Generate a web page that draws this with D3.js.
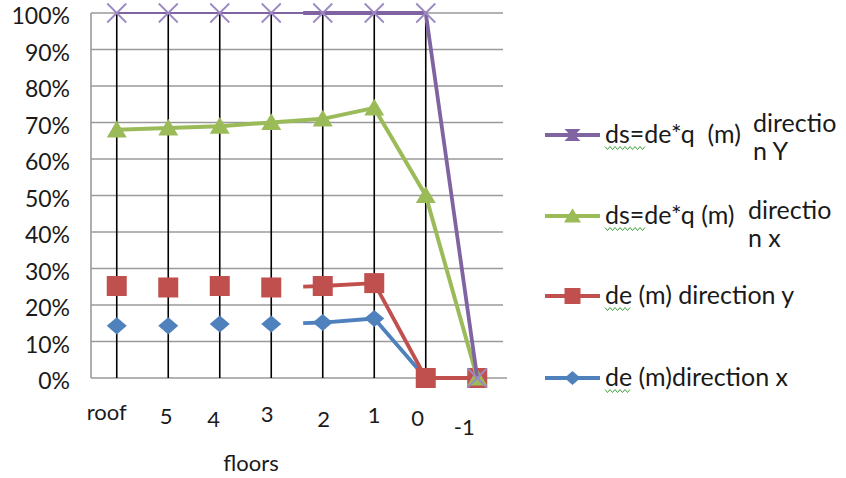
<!DOCTYPE html>
<html>
<head>
<meta charset="utf-8">
<script src="https://cdn.jsdelivr.net/npm/d3@7/dist/d3.min.js"></script>
<style>
  html, body { margin: 0; padding: 0; background: #fff; }
  svg { display: block; }
  text { font-family: Lato, "Open Sans", sans-serif; fill: #1a1a1a; white-space: pre; }
</style>
</head>
<body>
<svg id="chart" width="846" height="478"></svg>
<script>
// Floors along the x axis, top of the building first
const categories = ["roof", "5", "4", "3", "2", "1", "0", "-1"];

// Ratios per floor, in percent
const dsDirY = [100, 100, 100, 100, 100, 100, 100, 0];
const dsDirX = [68, 68.5, 69, 70, 71, 74, 50, 0];
const deDirY = [25.2, 24.8, 25.2, 24.8, 25.2, 26, 0, 0];
const deDirX = [14.3, 14.3, 14.8, 14.8, 15.2, 16.3, 0, 0];

const yTicks = [0, 10, 20, 30, 40, 50, 60, 70, 80, 90, 100];
const yTickLabels = ["0%", "10%", "20%", "30%", "40%", "50%", "60%", "70%", "80%", "90%", "100%"];

const seriesNames = {
  dsY: ["ds=de*q  (m)", "directio", "n Y"],
  dsX: ["ds=de*q (m)", "directio", "n x"],
  deY: ["de (m) direction y"],
  deX: ["de (m)direction x"]
};
const xTitle = "floors";

const COLORS = { blue: "#4F81BD", red: "#C0504D", green: "#9BBB59", purple: "#8064A2" };

const svg = d3.select("#chart");
const plot = { left: 91, right: 503, top: 13, bottom: 378 };

const x = d3.scalePoint().domain(categories).range([plot.left, plot.right]).padding(0.5);
const y = d3.scaleLinear().domain([0, 100]).range([plot.bottom, plot.top]);

// Horizontal gridlines
svg.append("g").selectAll("line").data(yTicks).join("line")
  .attr("x1", plot.left).attr("x2", d => d === 0 ? plot.right + 4 : plot.right)
  .attr("y1", d => y(d)).attr("y2", d => y(d))
  .attr("stroke", "#9a9a9a").attr("stroke-width", 1.6);

// Value axis line
svg.append("line")
  .attr("x1", plot.left).attr("x2", plot.left)
  .attr("y1", y(100)).attr("y2", y(0))
  .attr("stroke", "#9a9a9a").attr("stroke-width", 1.6);

// Y tick labels
svg.append("g").selectAll("text").data(yTicks).join("text")
  .attr("x", 70).attr("y", d => y(d) + 11)
  .attr("text-anchor", "end")
  .attr("font-size", 23)
  .text((d, i) => yTickLabels[i]);

// Drop lines from the highest value on each floor down to the axis
const maxPerFloor = categories.map((c, i) => Math.max(dsDirY[i], dsDirX[i], deDirY[i], deDirX[i]));
svg.append("g").selectAll("line").data(categories).join("line")
  .attr("x1", d => x(d)).attr("x2", d => x(d))
  .attr("y1", (d, i) => y(maxPerFloor[i])).attr("y2", y(0))
  .attr("stroke", "#000").attr("stroke-width", 1.6);

// Category labels (hand-set nudges keep the loose, pasted-in look of the axis)
const labelNudge = {
  "roof": [-10, 420], "5": [-2, 424], "4": [-6, 427], "3": [-4, 422],
  "2": [1, 427], "1": [0, 423], "0": [-8, 426], "-1": [-13, 435]
};
svg.append("g").selectAll("text").data(categories).join("text")
  .attr("x", d => x(d) + labelNudge[d][0])
  .attr("y", d => labelNudge[d][1])
  .attr("text-anchor", "middle")
  .attr("font-size", 22)
  .text(d => d);

svg.append("text")
  .attr("x", 251).attr("y", 471)
  .attr("text-anchor", "middle")
  .attr("font-size", 22)
  .text(xTitle);

// Marker shapes
function marker(g, kind, cx, cy, s, color) {
  if (kind === "diamond") {
    g.append("path").attr("d", `M${cx - s / 2},${cy}L${cx},${cy - s * 0.43}L${cx + s / 2},${cy}L${cx},${cy + s * 0.43}Z`)
      .attr("fill", color);
  } else if (kind === "square") {
    g.append("rect").attr("x", cx - s / 2).attr("y", cy - s / 2).attr("width", s).attr("height", s)
      .attr("fill", color);
  } else if (kind === "triangle") {
    g.append("path").attr("d", `M${cx - s / 2},${cy + s * 0.38}L${cx},${cy - s * 0.46}L${cx + s / 2},${cy + s * 0.38}Z`)
      .attr("fill", color);
  } else if (kind === "x") {
    const h = s / 2;
    g.append("path").attr("d", `M${cx - h},${cy - h}L${cx + h},${cy + h}M${cx + h},${cy - h}L${cx - h},${cy + h}`)
      .attr("stroke", color).attr("stroke-width", 1.8).attr("fill", "none");
  } else if (kind === "hourglass") {
    const w = s / 2, h = s * 0.38;
    g.append("path").attr("d",
      `M${cx - w},${cy - h}L${cx + w},${cy - h}L${cx + w * 0.3},${cy}L${cx + w},${cy + h}` +
      `L${cx - w},${cy + h}L${cx - w * 0.3},${cy}Z`)
      .attr("fill", color);
  }
}

const line = d3.line().x(d => x(d.c)).y(d => y(d.v));
const pts = vals => categories.map((c, i) => ({ c, v: vals[i] }));

// Partial segment between floors "3" and "2": only the part nearest "2" is drawn
const stubFrac = 0.38;
const joinIdx = categories.indexOf("2");
function stubStart(vals) {
  const a = joinIdx - 1, b = joinIdx;
  const xa = x(categories[a]), xb = x(categories[b]);
  const ya = y(vals[a]), yb = y(vals[b]);
  return [xb + (xa - xb) * stubFrac, yb + (ya - yb) * stubFrac];
}
function tailPath(vals) {
  const s = stubStart(vals);
  const rest = pts(vals).slice(joinIdx).map(d => [x(d.c), y(d.v)]);
  return d3.line()([s, ...rest]);
}

const series = [
  { vals: deDirX, color: COLORS.blue, kind: "diamond", size: 20, mode: "tail" },
  { vals: deDirY, color: COLORS.red, kind: "square", size: 20, mode: "tail" },
  { vals: dsDirX, color: COLORS.green, kind: "triangle", size: 20, mode: "full" },
  { vals: dsDirY, color: COLORS.purple, kind: "x", size: 19, mode: "thinHead" }
];

series.forEach(s => {
  const g = svg.append("g");
  if (s.mode === "full") {
    g.append("path").attr("d", line(pts(s.vals)))
      .attr("fill", "none").attr("stroke", s.color).attr("stroke-width", 4).attr("stroke-linejoin", "round");
  } else {
    if (s.mode === "thinHead") {
      g.append("path").attr("d", line(pts(s.vals).slice(0, joinIdx + 1)))
        .attr("fill", "none").attr("stroke", s.color).attr("stroke-width", 1.8);
    }
    g.append("path").attr("d", tailPath(s.vals))
      .attr("fill", "none").attr("stroke", s.color).attr("stroke-width", 3.8).attr("stroke-linejoin", "round");
  }
  const mColor = s.kind === "x" ? "#9c89c4" : s.color;
  s.vals.forEach((v, i) => marker(g, s.kind, x(categories[i]), y(v), s.size, mColor));
});

// Legend
const legend = svg.append("g");
const lx0 = 545, lx1 = 600, tx = 605, fs = 25;
const entries = [
  { key: "dsY", yy: 135, color: COLORS.purple, kind: "hourglass", size: 16, wrapX: 753, wrapY: 132 },
  { key: "dsX", yy: 216, color: COLORS.green, kind: "triangle", size: 17, wrapX: 748, wrapY: 219 },
  { key: "deY", yy: 296, color: COLORS.red, kind: "square", size: 16 },
  { key: "deX", yy: 378, color: COLORS.blue, kind: "diamond", size: 16 }
];

function squiggle(x0, x1, yy) {
  const p = [];
  for (let xx = x0, k = 0; xx <= x1; xx += 2.5, k++) p.push([xx, yy + (k % 2 ? 1.5 : -1.5)]);
  return d3.line()(p);
}

entries.forEach(e => {
  legend.append("line").attr("x1", lx0).attr("x2", lx1).attr("y1", e.yy).attr("y2", e.yy)
    .attr("stroke", e.color).attr("stroke-width", 4);
  marker(legend, e.kind, (lx0 + lx1) / 2, e.yy, e.size, e.color);
  const parts = seriesNames[e.key];
  legend.append("text").attr("x", tx).attr("y", e.yy + 8).attr("font-size", fs).text(parts[0]);
  if (parts.length > 1) {
    legend.append("text").attr("x", e.wrapX).attr("y", e.wrapY).attr("font-size", fs).text(parts[1]);
    legend.append("text").attr("x", e.wrapX).attr("y", e.wrapY + 28).attr("font-size", fs).text(parts[2]);
  }
  // spell-check underline under the abbreviation
  const underW = e.key.startsWith("ds") ? 40 : 26;
  legend.append("path").attr("d", squiggle(tx, tx + underW, e.yy + 13))
    .attr("fill", "none").attr("stroke", "#3da33d").attr("stroke-width", 1);
});
</script>
</body>
</html>
